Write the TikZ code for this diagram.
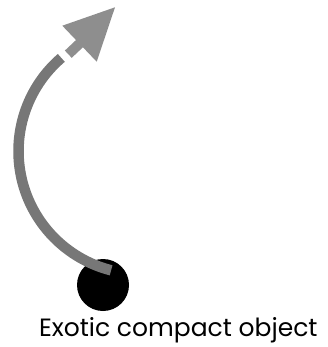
\documentclass[tikz,border=0pt]{standalone}
\usepackage{fontspec}
\setmainfont{Poppins}
\definecolor{arcgray}{HTML}{777777}
\definecolor{headgray}{HTML}{8E8E8E}
\begin{document}
\begin{tikzpicture}[x=1pt,y=-1pt,
  arcline/.style={draw=arcgray,line width=10.5pt,line cap=butt},
  shaftline/.style={draw=headgray,line width=10pt,line cap=butt},
  headfill/.style={fill=headgray,draw=none},
  objdot/.style={circle,fill=black,inner sep=0pt,minimum size=52pt},
  lbl/.style={inner sep=0pt,font=\fontsize{25}{29}\selectfont}]
\useasboundingbox (0,0) rectangle (327,347);
\node[objdot] (obj) at (103,285) {};
\node[lbl,anchor=base] (label) at (178.3,336.7) {Exotic compact object};
\coordinate (a0) at (111.1,270.3);
\coordinate (a1) at (21.75,179.2);
\coordinate (a2) at (61.3,57.9);
\draw[arcline] (a0) .. controls (66.7,259.0) and (32.2,223.9) .. (a1)
  .. controls (11.3,134.5) and (26.5,87.8) .. (a2);
\coordinate (s0) at (68.3,54.2);
\coordinate (s1) at (80.5,42.7);
\coordinate (tip) at (115,7.3);
\coordinate (hl) at (62.3,25.7);
\coordinate (hr) at (96.7,61.7);
\draw[shaftline] (s0) -- (s1);
\fill[headfill] (tip) -- (hl) -- (hr) -- cycle;
\end{tikzpicture}
\end{document}
